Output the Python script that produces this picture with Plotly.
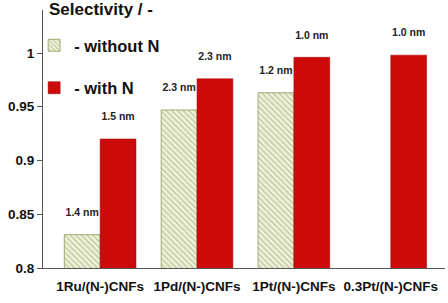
import plotly.graph_objects as go

categories = ["1Ru/(N-)CNFs", "1Pd/(N-)CNFs", "1Pt/(N-)CNFs", "0.3Pt/(N-)CNFs"]
without_n = [0.831, 0.947, 0.963, None]
with_n = [0.920, 0.976, 0.996, 0.998]
without_n_labels = ["1.4 nm", "2.3 nm", "1.2 nm", ""]
with_n_labels = ["1.5 nm", "2.3 nm", "1.0 nm", "1.0 nm"]
y_ticks = [0.8, 0.85, 0.9, 0.95, 1.0]
y_tick_text = ["0.8", "0.85", "0.9", "0.95", "1"]

FONT = "Liberation Sans, Arial, sans-serif"

fig = go.Figure()
fig.add_trace(go.Bar(
    x=categories, y=without_n, name="<b>- without N</b>",
    legendgroup="a",
    marker=dict(color="#eef2d6", line=dict(color="#8c9a5a", width=0.8),
                pattern=dict(shape="\\", fgcolor="#93a36a", bgcolor="#f1f4dd", size=4, solidity=0.4)),
    text=[f"<b>{t}</b><br> " if t else "" for t in without_n_labels],
    textposition="outside", textfont=dict(size=10.5, color="#222", family=FONT),
    cliponaxis=False,
))
fig.add_trace(go.Bar(
    x=categories, y=with_n, name="<b>- with N</b>",
    legendgroup="b",
    marker=dict(color="#cc0a0a", line=dict(color="#a00000", width=0.5)),
    text=[f"<b>{t}</b><br> " for t in with_n_labels],
    textposition="outside", textfont=dict(size=10.5, color="#222", family=FONT),
    cliponaxis=False,
))

fig.update_layout(
    width=448, height=303,
    margin=dict(l=43, r=3, t=10, b=35),
    paper_bgcolor="white", plot_bgcolor="white",
    barmode="group", bargap=0.26, bargroupgap=0,
    font=dict(family=FONT, color="#111"),
    showlegend=True,
    legend=dict(x=-0.022, y=0.93, xanchor="left", yanchor="top",
                font=dict(size=16.5, family=FONT, color="#111"),
                tracegroupgap=18, bgcolor="rgba(0,0,0,0)"),
    annotations=[dict(text="<b>Selectivity / -</b>", xref="paper", yref="paper",
                      x=0.01, y=1.045, xanchor="left", yanchor="top", showarrow=False,
                      font=dict(size=17, family=FONT, color="#111"))],
)
fig.update_xaxes(range=[-0.59, 3.56], showline=True, linecolor="#555", linewidth=1,
                 ticks="", ticklabelstandoff=6,
                 tickfont=dict(size=13.5, family=FONT, color="#111"))
fig.update_yaxes(range=[0.8, 1.04], tickvals=y_ticks, ticktext=[f"<b>{t}</b>" for t in y_tick_text],
                 showline=True, linecolor="#555", linewidth=1, ticks="outside", ticklen=5,
                 tickcolor="#555", showgrid=False, zeroline=False,
                 tickfont=dict(size=13.5, family=FONT, color="#111"))
fig.update_xaxes(ticktext=[f"<b>{c}</b>" for c in categories], tickvals=categories)

fig.write_html("out.html")
